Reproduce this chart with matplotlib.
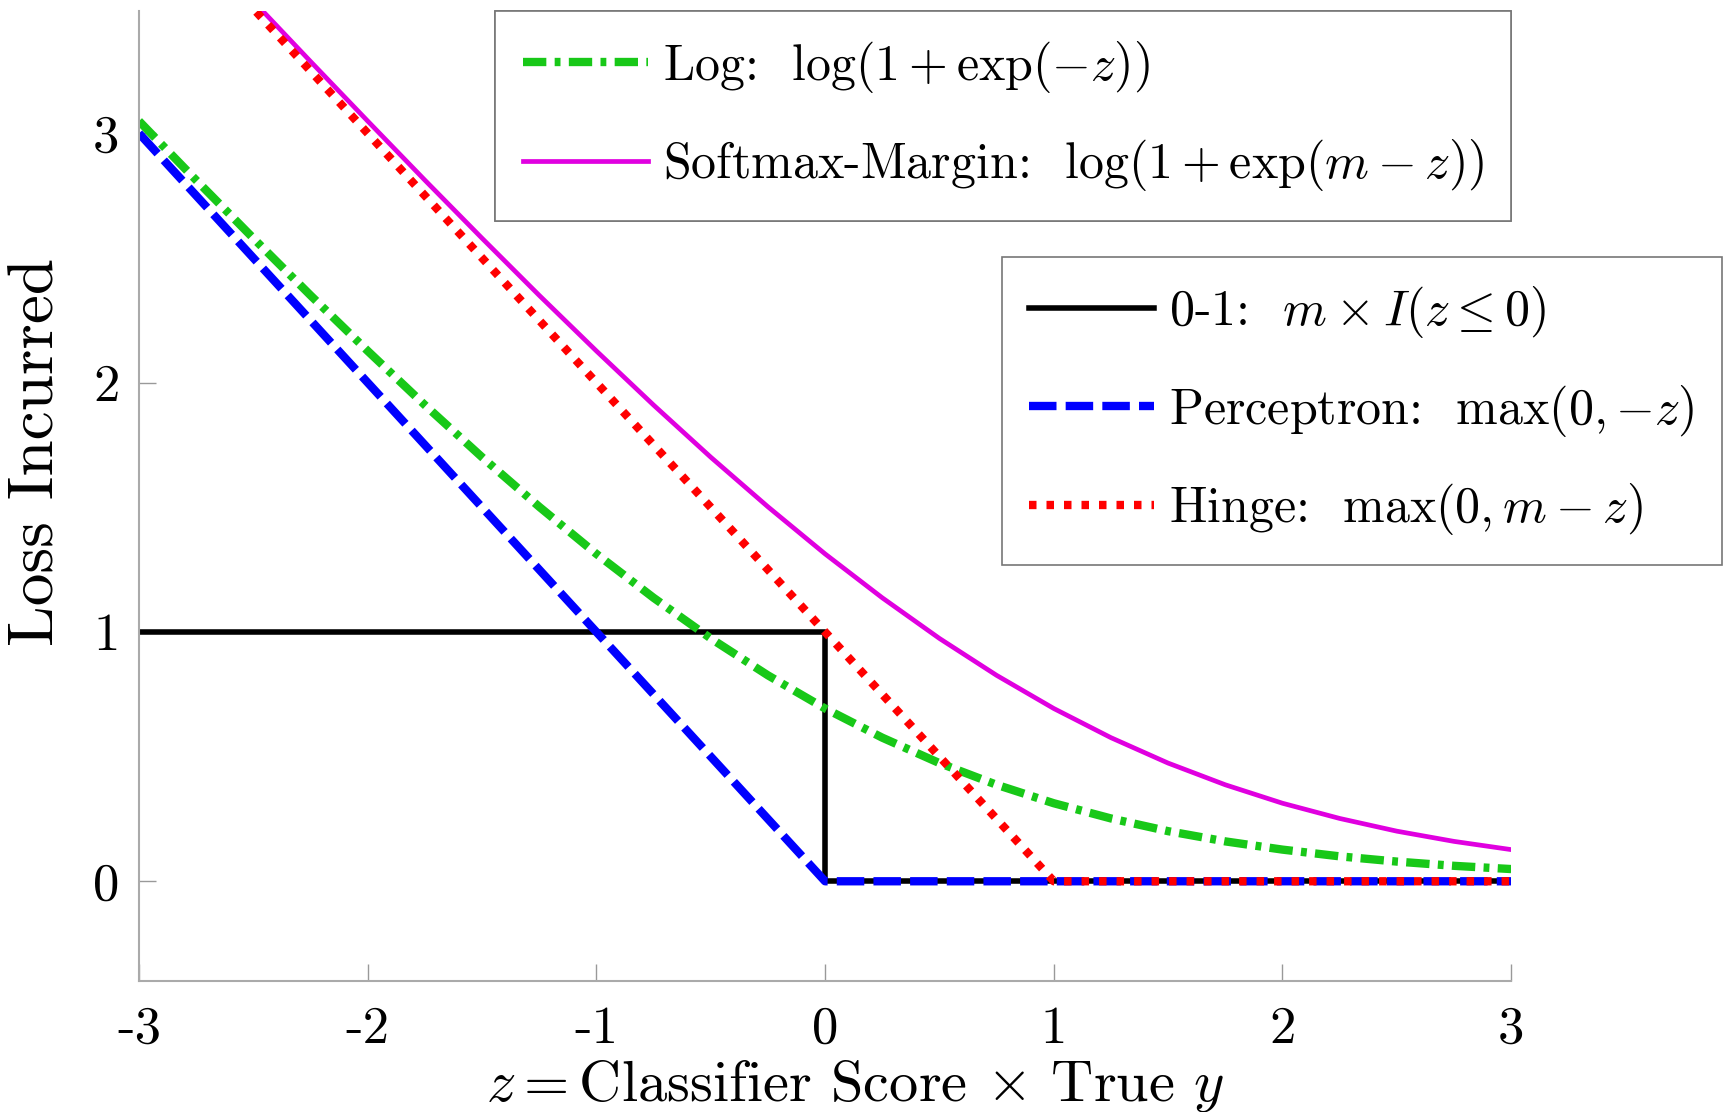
import matplotlib
matplotlib.use("Agg")
import matplotlib.pyplot as plt
import numpy as np

plt.rcParams['font.family'] = 'serif'
plt.rcParams['font.serif'] = ['cmr10']
plt.rcParams['mathtext.fontset'] = 'cm'
plt.rcParams['axes.unicode_minus'] = False
plt.rcParams['axes.formatter.use_mathtext'] = False

# classifier score z, sampled every 0.25
z = [-3.0, -2.75, -2.5, -2.25, -2.0, -1.75, -1.5, -1.25, -1.0, -0.75, -0.5, -0.25,
     0.0, 0.25, 0.5, 0.75, 1.0, 1.25, 1.5, 1.75, 2.0, 2.25, 2.5, 2.75, 3.0]

log_loss = [3.049, 2.812, 2.579, 2.350, 2.127, 1.910, 1.701, 1.502, 1.313, 1.137, 0.974, 0.826,
            0.693, 0.576, 0.474, 0.387, 0.313, 0.252, 0.201, 0.160, 0.127, 0.100, 0.079, 0.062, 0.049]
softmax_margin = [4.018, 3.773, 3.530, 3.288, 3.049, 2.812, 2.579, 2.350, 2.127, 1.910, 1.701, 1.502,
                  1.313, 1.137, 0.974, 0.826, 0.693, 0.576, 0.474, 0.387, 0.313, 0.252, 0.201, 0.160, 0.127]
perceptron = [3.0, 2.75, 2.5, 2.25, 2.0, 1.75, 1.5, 1.25, 1.0, 0.75, 0.5, 0.25,
              0.0, 0.0, 0.0, 0.0, 0.0, 0.0, 0.0, 0.0, 0.0, 0.0, 0.0, 0.0, 0.0]
hinge = [4.0, 3.75, 3.5, 3.25, 3.0, 2.75, 2.5, 2.25, 2.0, 1.75, 1.5, 1.25,
         1.0, 0.75, 0.5, 0.25, 0.0, 0.0, 0.0, 0.0, 0.0, 0.0, 0.0, 0.0, 0.0]

# 0-1 loss is a step at z = 0
z_01 = [-3.0, 0.0, 0.0, 3.0]
zero_one = [1.0, 1.0, 0.0, 0.0]

fig = plt.figure(figsize=(17.29, 11.12), dpi=100)
ax = fig.add_axes([0.0804, 0.1178, 0.874 - 0.0804, 0.990 - 0.1178])

l01, = ax.plot(z_01, zero_one, '-', color='black', lw=4,
               label=r'0-1:  $m \times I(z \leq 0)$')
lsm, = ax.plot(z, softmax_margin, '-', color='#e000e0', lw=3.4,
               label=r'Softmax-Margin:  $\log(1+\exp(m-z))$')
llog, = ax.plot(z, log_loss, color='#18c818', lw=6, dashes=(2.8, 1.0, 0.7, 1.0),
                label=r'Log:  $\log(1+\exp(-z))$')
lper, = ax.plot(z, perceptron, color='blue', lw=6, dashes=(3.3, 1.1),
                label=r'Perceptron:  $\max(0,{-z})$')
lhin, = ax.plot(z, hinge, color='red', lw=6, dashes=(0.9, 1.2),
                label=r'Hinge:  $\max(0,m-z)$')

ax.set_xlim(-3, 3)
ax.set_ylim(-0.4, 3.49)
ax.set_xticks([-3, -2, -1, 0, 1, 2, 3])
ax.set_yticks([0, 1, 2, 3])
ax.tick_params(direction='in', length=12, width=1, color='#999999',
               labelsize=38, pad=14)
ax.tick_params(axis='x', pad=18)
for s in ['top', 'right']:
    ax.spines[s].set_visible(False)
for s in ['left', 'bottom']:
    ax.spines[s].set_color('#aaaaaa')
    ax.spines[s].set_linewidth(1.5)

ax.set_ylabel('Loss Incurred', fontsize=47)
ax.yaxis.set_label_coords(-0.053, 0.545)
ax.set_xlabel(r'$z = $Classifier Score $\times$ True $y$', fontsize=42)
ax.xaxis.set_label_coords(0.522, -0.079)

leg_kw = dict(fontsize=36, fancybox=False, framealpha=1, edgecolor='#777777',
              handlelength=2.5, handletextpad=0.3, labelspacing=0.85,
              borderpad=0.55, borderaxespad=0)
leg1 = ax.legend(handles=[llog, lsm], loc='upper right', bbox_to_anchor=(1.0, 1.0), **leg_kw)
leg1.get_frame().set_linewidth(1.2)
ax.add_artist(leg1)
leg2 = fig.legend(handles=[l01, lper, lhin], loc='upper right',
                  bbox_to_anchor=(0.996, 0.769), **leg_kw)
leg2.get_frame().set_linewidth(1.2)

fig.savefig('out.png', dpi=100, facecolor='white')
